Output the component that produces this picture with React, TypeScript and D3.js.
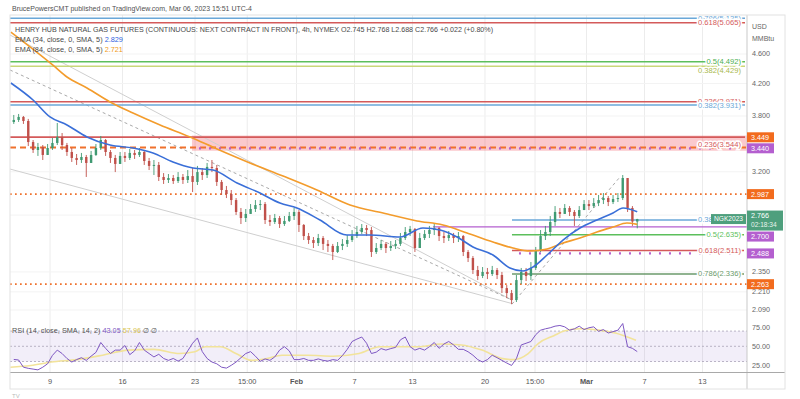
import React from 'react';
import * as d3 from 'd3';

const FONT = '"Liberation Sans", Arial, sans-serif';

// NG1! 4h candles at 3 bars per session, first bar = Jan 4 (session 0)
const firstOpen = 3.73;
const closes = [
  3.754, 3.789, 3.742, 3.507, 3.422, 3.454, 3.370, 3.443, 3.497, 3.562,
  3.475, 3.401, 3.339, 3.318, 3.349, 3.288, 3.370, 3.443, 3.529, 3.401,
  3.339, 3.278, 3.360, 3.339, 3.391, 3.370, 3.401, 3.308, 3.258, 3.268,
  3.149, 3.120, 3.139, 3.110, 3.149, 3.120, 3.158, 3.101, 3.197, 3.168,
  3.248, 3.237, 3.101, 3.025, 2.988, 2.933, 2.827, 2.775, 2.810, 2.853,
  2.888, 2.897, 2.758, 2.741, 2.775, 2.724, 2.750, 2.792, 2.827, 2.716,
  2.625, 2.593, 2.569, 2.609, 2.562, 2.546, 2.499, 2.546, 2.562, 2.593,
  2.625, 2.658, 2.691, 2.674, 2.499, 2.530, 2.562, 2.530, 2.546, 2.562,
  2.609, 2.658, 2.683, 2.530, 2.609, 2.642, 2.674, 2.691, 2.625, 2.609,
  2.633, 2.609, 2.625, 2.499, 2.453, 2.364, 2.321, 2.350, 2.335, 2.364,
  2.328, 2.236, 2.202, 2.155, 2.292, 2.350, 2.321, 2.379, 2.514, 2.625,
  2.658, 2.741, 2.827, 2.810, 2.862, 2.827, 2.792, 2.844, 2.897, 2.879,
  2.906, 2.933, 2.951, 2.915, 2.942, 2.951, 3.139, 2.862, 2.745, 2.766,
];
const highs = [
  3.812, 3.824, 3.800, 3.766, 3.529, 3.497, 3.475, 3.486, 3.551, 3.719,
  3.606, 3.497, 3.443, 3.380, 3.391, 3.370, 3.412, 3.486, 3.573, 3.540,
  3.422, 3.370, 3.401, 3.401, 3.433, 3.422, 3.443, 3.422, 3.339, 3.318,
  3.298, 3.187, 3.178, 3.168, 3.197, 3.178, 3.217, 3.237, 3.258, 3.237,
  3.288, 3.318, 3.268, 3.120, 3.063, 3.025, 2.951, 2.862, 2.853, 2.897,
  2.933, 2.933, 2.915, 2.801, 2.810, 2.792, 2.792, 2.827, 2.862, 2.844,
  2.724, 2.650, 2.617, 2.642, 2.625, 2.593, 2.562, 2.577, 2.601, 2.633,
  2.674, 2.708, 2.724, 2.716, 2.699, 2.569, 2.593, 2.577, 2.585, 2.593,
  2.650, 2.699, 2.708, 2.691, 2.650, 2.674, 2.708, 2.724, 2.699, 2.658,
  2.666, 2.650, 2.658, 2.633, 2.514, 2.468, 2.394, 2.386, 2.379, 2.394,
  2.379, 2.350, 2.257, 2.223, 2.328, 2.379, 2.379, 2.423, 2.538, 2.674,
  2.708, 2.792, 2.879, 2.862, 2.897, 2.879, 2.844, 2.879, 2.933, 2.933,
  2.951, 2.979, 2.997, 2.970, 2.979, 2.997, 3.168, 3.139, 2.879, 2.768,
];
const lows = [
  3.708, 3.731, 3.708, 3.464, 3.391, 3.360, 3.318, 3.391, 3.422, 3.475,
  3.422, 3.360, 3.298, 3.268, 3.288, 3.149, 3.288, 3.360, 3.422, 3.360,
  3.288, 3.197, 3.298, 3.298, 3.318, 3.329, 3.349, 3.268, 3.217, 3.168,
  3.110, 3.082, 3.091, 3.082, 3.091, 3.082, 3.091, 3.006, 3.072, 3.120,
  3.139, 3.197, 3.063, 2.979, 2.951, 2.888, 2.801, 2.724, 2.741, 2.810,
  2.827, 2.844, 2.724, 2.708, 2.724, 2.691, 2.708, 2.741, 2.758, 2.658,
  2.593, 2.562, 2.530, 2.546, 2.514, 2.499, 2.438, 2.491, 2.514, 2.538,
  2.577, 2.609, 2.642, 2.625, 2.461, 2.484, 2.514, 2.491, 2.507, 2.522,
  2.546, 2.593, 2.625, 2.499, 2.562, 2.593, 2.609, 2.633, 2.585, 2.569,
  2.585, 2.569, 2.577, 2.468, 2.423, 2.335, 2.292, 2.306, 2.299, 2.321,
  2.299, 2.202, 2.168, 2.128, 2.142, 2.264, 2.285, 2.292, 2.364, 2.499,
  2.593, 2.625, 2.708, 2.775, 2.810, 2.792, 2.708, 2.775, 2.844, 2.844,
  2.862, 2.879, 2.897, 2.879, 2.897, 2.915, 2.933, 2.827, 2.708, 2.688,
];
const rsiValues = [
  32.7, 32, 22.5, 21, 20, 19, 22.5, 27, 38, 45,
  40.5, 34, 29.3, 32.5, 35, 31.5, 37, 42, 55, 47.3,
  40.5, 45, 45, 51, 39, 44, 55, 45, 40.5, 36,
  39.5, 34, 31.5, 34, 30.5, 34, 44, 54, 61, 43,
  34, 29.3, 27, 22.5, 21.3, 25, 29.3, 35, 40.5, 43,
  37, 30.2, 33.4, 31.5, 36, 45, 49.5, 44, 32.5, 32.5,
  34, 31.5, 31.5, 33.4, 31.5, 30.5, 32.5, 31.5, 37.8, 46,
  56.3, 59.5, 62.2, 54, 40.5, 42.3, 47, 45, 47, 48.6,
  58.5, 62.2, 49.5, 45, 47.3, 45, 49.5, 55, 47.3, 53,
  56.3, 51.8, 46, 46, 42.8, 38.3, 32.5, 29.3, 32.5, 38.3,
  35, 31.5, 28, 24.8, 33.8, 51.8, 54, 56.3, 65.3, 71.2,
  73, 74.4, 76.5, 77.4, 75.6, 71.2, 73, 76.5, 72, 74.4,
  75.6, 69.8, 72, 67.5, 69.3, 71.2, 80, 49.5, 47.3, 43.05,
];

// [session day, value] samples
const rsiSma: [number, number][] = [
  [0.26, 22.5], [1.68, 24.8], [3.09, 29.3], [4.86, 32.5], [6.63, 38.3], [8.39, 45],
  [10.16, 46], [11.93, 40.5], [12.99, 42.8], [13.7, 49.5], [14.76, 49.5], [15.82, 40.5],
  [16.88, 31.5], [17.94, 33.8], [19.0, 38.3], [20.77, 38.3], [22.54, 37], [24.31, 40.5],
  [25.72, 49.5], [27.14, 49.5], [28.55, 49.5], [29.97, 53.1], [31.38, 51.8], [32.79, 45],
  [34.21, 33.8], [34.92, 32.5], [35.98, 40.5], [36.69, 54], [37.75, 64], [38.45, 70],
  [39.52, 73], [40.58, 72], [41.99, 67.5], [43.41, 57.96],
];
const ema34: [number, number][] = [
  [0.3, 4.207], [1.83, 3.992], [3, 3.789], [4.17, 3.696], [5.55, 3.562], [7.14, 3.475],
  [8.72, 3.443], [10.1, 3.391], [11.48, 3.298], [12.86, 3.237], [14.24, 3.217], [15.9, 3.091],
  [17.48, 2.997], [18.86, 2.906], [20.03, 2.862], [21.62, 2.758], [23.48, 2.633], [25.07, 2.633],
  [27.14, 2.617], [28.72, 2.691], [29.9, 2.674], [31.07, 2.617], [32.17, 2.538], [33.55, 2.476],
  [34.72, 2.379], [35.62, 2.357], [36.31, 2.386], [37.28, 2.476], [38.38, 2.593], [39.55, 2.691],
  [40.72, 2.758], [41.83, 2.818], [42.52, 2.862], [43.5, 2.829],
];
const ema84: [number, number][] = [
  [0.3, 4.92], [3.2, 4.444], [4.17, 4.285], [5.55, 4.143], [7.14, 3.968], [8.72, 3.835],
  [10.59, 3.696], [12.66, 3.562], [14.52, 3.433], [16.79, 3.288], [19.07, 3.158], [21.41, 3.025],
  [23.69, 2.888], [25.97, 2.818], [28.31, 2.75], [30.1, 2.716], [31.76, 2.65], [33.55, 2.577],
  [34.93, 2.53], [36.1, 2.507], [37.28, 2.522], [38.38, 2.569], [39.55, 2.609], [40.72, 2.658],
  [41.83, 2.699], [42.79, 2.733], [43.5, 2.721],
];

const timeTicks = [3, 8, 13, 16.6, 20, 24, 28, 33, 36.45, 40, 44, 48];
const timeLabels = ['9', '16', '23', '15:00', 'Feb', '7', '13', '20', '15:00', 'Mar', '7', '13'];
const priceTicks = [4.6, 4.2, 3.8, 3.2, 2.8, 2.35, 2.21, 2.09];
const rsiTicks = [75, 50, 25];

// long fib / level lines across the whole pane
const fullLevels = [
  { value: 5.135, label: '0.786(5.135)', color: '#6aa7d8', labelColor: '#6aa7d8', shift: 0 },
  { value: 5.065, label: '0.618(5.065)', color: '#d45a5a', labelColor: '#d45a5a', shift: 0 },
  { value: 4.492, label: '0.5(4.492)', color: '#5cbf5c', labelColor: '#4caf50', shift: 0 },
  { value: 4.429, label: '0.382(4.429)', color: '#c9d77a', labelColor: '#a9b84e', shift: 4 },
  { value: 3.971, label: '0.236(3.971)', color: '#d45a5a', labelColor: '#d45a5a', shift: 0 },
  { value: 3.931, label: '0.382(3.931)', color: '#6aa7d8', labelColor: '#6aa7d8', shift: 0 },
  { value: 3.56, label: '0.236(3.544)', color: '#d45a5a', labelColor: '#d45a5a', shift: 7 },
];
// retracement of the Feb 22 low -> Mar 3 high
const fibStart = 34.86;
const fibLevels = [
  { value: 2.759, label: '0.382(2.759)', color: '#6aa7d8' },
  { value: 2.635, label: '0.5(2.635)', color: '#5cbf5c' },
  { value: 2.511, label: '0.618(2.511)', color: '#d45a5a' },
  { value: 2.336, label: '0.786(2.336)', color: '#6b9a6b' },
];
const zone = { from: 12.79, top: 3.578, bottom: 3.414 };
const orangeDotted = [2.987, 2.263];
const orangeDashed = 3.449;
const purpleDotted = [{ value: 3.44, from: 12.79 }, { value: 2.488, from: 34.86 }];
const purpleSolid = { value: 2.7, from: 29.41 };
const trendLines = [
  { a: [0.24, 4.877], b: [34.86, 2.155], dashed: false },
  { a: [0.24, 4.379], b: [34.86, 2.155], dashed: true },
  { a: [0.24, 3.227], b: [34.86, 2.132], dashed: false },
  { a: [34.86, 2.128], b: [42.31, 3.149], dashed: true },
];
const axisTags = [
  { value: 2.766, text: '2.766', sub: '02:18:34', color: '#4e9f7d', fixed: true },
  { value: 3.44, text: '3.440', color: '#b45fcf', fixed: true },
  { value: 3.449, text: '3.449', color: '#f26b1d' },
  { value: 2.987, text: '2.987', color: '#f26b1d' },
  { value: 2.7, text: '2.700', color: '#b45fcf' },
  { value: 2.488, text: '2.488', color: '#b45fcf' },
  { value: 2.263, text: '2.263', color: '#f26b1d' },
];

const UP = '#3f9a72';
const DOWN = '#c0504a';
const ORANGE = '#f0712c';
const PURPLE = '#b45fcf';

export default function App() {
  const L = 10, R = 747, TOP = 15, MAIN_B = 318, RSI_B = 372.5;
  const x = d3.scaleLinear().domain([0.24, 51.07]).range([L, R]);
  const y = d3.scaleLog().domain([2.09, 4.6]).range([310, 54]);
  const r = d3.scaleLinear().domain([25, 75]).range([365.3, 327.3]);

  const bars = closes.map((c, i) => {
    const o = i === 0 ? firstOpen : closes[i - 1];
    return { t: (i + 1.5) / 3, o, c, h: Math.max(highs[i], o, c), l: Math.min(lows[i], o, c) };
  });

  const line = d3.line<[number, number]>().x(d => x(d[0])).y(d => y(d[1])).curve(d3.curveMonotoneX);
  const rsiLine = d3.line<number>().x((_, i) => x((i + 1.5) / 3)).y(d => r(d));
  const smaLine = d3.line<[number, number]>().x(d => x(d[0])).y(d => r(d[1])).curve(d3.curveMonotoneX);

  // keep price tags from overlapping, like the platform does
  const placed: { top: number; h: number; tag: any }[] = [];
  axisTags.forEach(tag => {
    const h = tag.sub ? 20 : 10;
    const cy = y(tag.value);
    let top = tag.sub ? cy - 8.5 : cy - h / 2;
    if (!tag.fixed) {
      let moved = true;
      while (moved) {
        moved = false;
        for (const p of placed) {
          if (top < p.top + p.h && top + h > p.top) {
            top = cy < p.top + p.h / 2 ? p.top - h - 1 : p.top + p.h + 1;
            moved = true;
          }
        }
      }
    }
    placed.push({ top, h, tag });
  });

  const halo = { stroke: '#fff', strokeWidth: 3, paintOrder: 'stroke' as const };
  const curY = y(closes[closes.length - 1]);

  return (
    <svg width={800} height={399} style={{ position: 'absolute', left: 0, top: 0, background: '#fff' }}
      fontFamily={FONT}>
      <defs>
        <clipPath id="main"><rect x={L} y={TOP} width={R - L} height={MAIN_B - TOP} /></clipPath>
        <clipPath id="rsi"><rect x={L} y={MAIN_B} width={R - L} height={RSI_B - MAIN_B} /></clipPath>
      </defs>
      <rect width={800} height={399} fill="#fff" />
      <text x={12} y={11} fontSize={7.4} fill="#505050" textLength={240} lengthAdjust="spacingAndGlyphs">
        BrucePowersCMT published on TradingView.com, Mar 06, 2023 15:51 UTC-4
      </text>

      {/* grid */}
      {timeTicks.map((t, i) => (
        <line key={'vg' + i} x1={x(t)} x2={x(t)} y1={TOP} y2={RSI_B} stroke="#ececec" />
      ))}
      {priceTicks.map((p, i) => (
        <line key={'hg' + i} x1={L} x2={R} y1={y(p)} y2={y(p)} stroke="#f3f3f3" />
      ))}

      <g clipPath="url(#main)">
        <rect x={x(zone.from)} y={y(zone.top)} width={R - x(zone.from)} height={y(zone.bottom) - y(zone.top)}
          fill="rgba(242,54,69,0.27)" />
        {trendLines.map((l, i) => (
          <line key={'tl' + i} x1={x(l.a[0])} y1={y(l.a[1])} x2={x(l.b[0])} y2={y(l.b[1])}
            stroke={l.dashed ? '#a9a9a9' : '#cfcfcf'} strokeWidth={1} strokeDasharray={l.dashed ? '3 3' : undefined} />
        ))}
        {fullLevels.map((lv, i) => (
          <line key={'fl' + i} x1={L} x2={R - 2} y1={y(lv.value)} y2={y(lv.value)} stroke={lv.color} strokeWidth={1.6} />
        ))}
        {fibLevels.map((lv, i) => (
          <line key={'fb' + i} x1={x(fibStart)} x2={R - 3} y1={y(lv.value)} y2={y(lv.value)} stroke={lv.color} strokeWidth={1.5} />
        ))}
        <line x1={L} x2={R} y1={y(orangeDashed)} y2={y(orangeDashed)} stroke={ORANGE} strokeWidth={2} strokeDasharray="6 4" />
        {purpleDotted.map((p, i) => (
          <line key={'pd' + i} x1={x(p.from)} x2={R} y1={y(p.value)} y2={y(p.value)} stroke={PURPLE}
            strokeWidth={2.2} strokeDasharray="2 8" strokeDashoffset={-7} />
        ))}
        {orangeDotted.map((v, i) => (
          <line key={'od' + i} x1={L} x2={R} y1={y(v)} y2={y(v)} stroke={ORANGE} strokeWidth={1.7} strokeDasharray="1.7 3.3" />
        ))}
        <line x1={x(purpleSolid.from)} x2={R} y1={y(purpleSolid.value)} y2={y(purpleSolid.value)} stroke={PURPLE} strokeWidth={1.3} />

        {/* level labels */}
        {fullLevels.map((lv, i) => (
          <text key={'flt' + i} x={741} y={y(lv.value) + lv.shift} dy="0.33em" textAnchor="end" fontSize={7.6}
            fill={lv.labelColor} {...halo}>{lv.label}</text>
        ))}
        {fibLevels.map((lv, i) => (
          <text key={'fbt' + i} x={741} y={y(lv.value)} dy="0.33em" textAnchor="end" fontSize={7.6}
            fill={lv.color} {...halo}>{lv.label}</text>
        ))}

        {/* candles */}
        {bars.map((b, i) => {
          const col = b.c >= b.o ? UP : DOWN;
          const bx = x(b.t);
          const top = y(Math.max(b.o, b.c));
          const bh = Math.max(1, y(Math.min(b.o, b.c)) - top);
          return (
            <g key={'c' + i}>
              <line x1={bx} x2={bx} y1={y(b.h)} y2={y(b.l)} stroke={col} strokeWidth={0.9} />
              <rect x={bx - 1.2} y={top} width={2.4} height={bh} fill={col} />
            </g>
          );
        })}
        <path d={line(ema84) || ''} fill="none" stroke="#f39c2c" strokeWidth={1.6} />
        <path d={line(ema34) || ''} fill="none" stroke="#3a6fd8" strokeWidth={1.6} />
      </g>

      {/* legend */}
      <text x={15} y={31.5} fontSize={7.3} fill="#4a4a4a" textLength={478} lengthAdjust="spacingAndGlyphs">
        HENRY HUB NATURAL GAS FUTURES (CONTINUOUS: NEXT CONTRACT IN FRONT), 4h, NYMEX  O2.745  H2.768  L2.688  C2.766  +0.022 (+0.80%)
      </text>
      <text x={15} y={41.5} fontSize={7.3} fill="#4a4a4a">
        EMA (34, close, 0, SMA, 5) <tspan fill="#2f62e0">2.829</tspan>
      </text>
      <text x={15} y={51.5} fontSize={7.3} fill="#4a4a4a">
        EMA (84, close, 0, SMA, 5) <tspan fill="#f09a20">2.721</tspan>
      </text>

      {/* RSI pane */}
      <rect x={L} y={r(70)} width={R - L} height={r(30) - r(70)} fill="rgba(126,87,194,0.1)" />
      {[70, 50, 30].map(v => (
        <line key={'rl' + v} x1={L} x2={R} y1={r(v)} y2={r(v)} stroke="#a9a3b8" strokeDasharray="2 2" strokeWidth={0.8} />
      ))}
      <g clipPath="url(#rsi)">
        <path d={smaLine(rsiSma) || ''} fill="none" stroke="#f2e39a" strokeWidth={1.6} />
        <path d={rsiLine(rsiValues) || ''} fill="none" stroke="#7e57c2" strokeWidth={1} />
      </g>
      <text x={12} y={r(70) + 2} fontSize={7.3} fill="#555">
        RSI (14, close, SMA, 14, 2) <tspan fill="#7e57c2">43.05</tspan> <tspan fill="#d8c450">57.96</tspan> ∅ ∅
      </text>

      {/* frame and axes */}
      <line x1={R} x2={R} y1={TOP} y2={389} stroke="#c9c9c9" />
      <line x1={L} x2={785} y1={RSI_B} y2={RSI_B} stroke="#a9a9a9" />
      <rect x={L} y={TOP} width={785 - L} height={389 - TOP} fill="none" stroke="#e2e2e2" />

      {timeTicks.map((t, i) => (
        <text key={'tt' + i} x={x(t)} y={384} textAnchor="middle" fontSize={7.4} fill="#555"
          fontWeight={timeLabels[i] === 'Feb' || timeLabels[i] === 'Mar' ? 'bold' : 'normal'}>{timeLabels[i]}</text>
      ))}
      <text x={752} y={29} fontSize={7} fill="#666">USD</text>
      <text x={752} y={41} fontSize={7} fill="#666">MMBtu</text>
      {priceTicks.map((p, i) => (
        <text key={'pt' + i} x={752} y={y(p)} dy="0.33em" fontSize={7.2} fill="#666">{d3.format('.3f')(p)}</text>
      ))}
      {rsiTicks.map(v => (
        <text key={'rt' + v} x={752} y={r(v)} dy="0.33em" fontSize={7.2} fill="#666">{d3.format('.2f')(v)}</text>
      ))}

      {/* contract tag and price tags */}
      <rect x={711} y={curY - 5} width={35} height={10} fill="#4e9f7d" />
      <text x={728.5} y={curY} dy="0.34em" textAnchor="middle" fontSize={6.6} fill="#fff">NGK2023</text>
      {placed.map((p, i) => (
        <g key={'tag' + i}>
          <rect x={R} y={p.top} width={p.tag.sub ? 36 : 27} height={p.h} fill={p.tag.color} />
          <text x={R + 4} y={p.top + 5} dy="0.34em" fontSize={7.2} fill="#fff">{p.tag.text}</text>
          {p.tag.sub && (
            <text x={R + 4} y={p.top + 14.5} dy="0.34em" fontSize={6.6} fill="#e8f3ee">{p.tag.sub}</text>
          )}
        </g>
      ))}
      <text x={12} y={398} fontSize={6} fill="#bbb">TV</text>
    </svg>
  );
}
